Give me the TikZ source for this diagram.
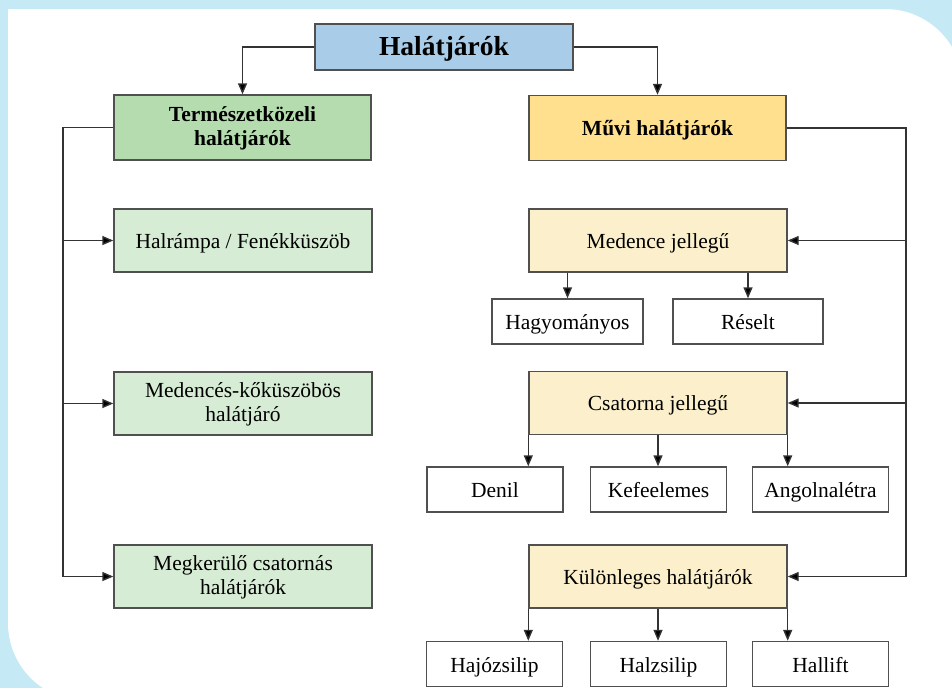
\documentclass[tikz,border=0pt]{standalone}
\usepackage{fontspec}
\setmainfont{Liberation Serif}
\usetikzlibrary{arrows.meta}
\definecolor{bgblue}{HTML}{C6E9F6}
\definecolor{rootblue}{HTML}{A9CCE9}
\definecolor{greenhdr}{HTML}{B4DCAF}
\definecolor{greenleaf}{HTML}{D7ECD4}
\definecolor{yellowhdr}{HTML}{FFE08E}
\definecolor{yellowsub}{HTML}{FBF0CB}
\definecolor{boxline}{HTML}{505050}
\definecolor{lineclr}{HTML}{333333}
\newcommand{\twol}[2]{\rule{0pt}{16pt}#1\\#2\rule[-2pt]{0pt}{2pt}}
\begin{document}
\begin{tikzpicture}[x=1pt,y=-1pt,
  box/.style={draw=boxline, line width=1.4pt, inner sep=0pt, align=center,
    font=\fontsize{21.5}{24}\selectfont},
  single/.style={text height=16pt, text depth=1pt},
  hdr/.style={box, minimum width=257pt, minimum height=65pt,
    font=\fontsize{21.5}{24}\selectfont\bfseries},
  bigbox/.style={box, minimum width=258pt, minimum height=63pt},
  smallbox/.style={box, fill=white, minimum width=136pt, minimum height=45pt,
    text height=17pt, text depth=1pt},
  conn/.style={draw=lineclr, line width=1.4pt},
  arr/.style={conn, -{Triangle[length=11pt,width=9pt,fill=black]}}]
\clip (0,0) rectangle (952,688);
\fill[bgblue] (0,0) rectangle (952,688);
\fill[white] (8,9) -- (885,9) arc[start angle=-90, end angle=0, radius=78]
  -- (963,701) -- (86,701) arc[start angle=90, end angle=180, radius=78] -- cycle;

% root
\node[box, fill=rootblue, minimum width=258pt, minimum height=46pt,
  text height=19pt, text depth=1.6pt,
  font=\fontsize{27.5}{32}\selectfont\bfseries] (root) at (444,47) {Halátjárók};

% level 2
\node[hdr, fill=greenhdr] (tk) at (242.5,127.5) {\twol{Természetközeli}{halátjárók}};
\node[hdr, single, fill=yellowhdr] (mu) at (657.5,128) {Művi halátjárók};

% left column
\node[bigbox, single, fill=greenleaf] (L1) at (243,240.5) {Halrámpa / Fenékküszöb};
\node[bigbox, fill=greenleaf] (L2) at (243,403.5) {\twol{Medencés-kőküszöbös}{halátjáró}};
\node[bigbox, fill=greenleaf] (L3) at (243,576.5) {\twol{Megkerülő csatornás}{halátjárók}};

% right column
\node[bigbox, single, fill=yellowsub] (R1) at (658,240.5) {Medence jellegű};
\node[bigbox, single, fill=yellowsub] (R2) at (658,403) {Csatorna jellegű};
\node[bigbox, single, fill=yellowsub] (R3) at (658,576.5) {Különleges halátjárók};

\node[smallbox, minimum width=151pt] (hagy) at (567.5,321.5) {Hagyományos};
\node[smallbox, minimum width=150pt] (res) at (748,321.5) {Réselt};

\node[smallbox] (denil) at (495,489.5) {Denil};
\node[smallbox] (kefe) at (658.5,489.5) {Kefeelemes};
\node[smallbox] (angol) at (820.5,489.5) {Angolnalétra};

\node[smallbox] (hajo) at (494.5,664) {Hajózsilip};
\node[smallbox] (halz) at (658.5,664) {Halzsilip};
\node[smallbox] (hallift) at (820.5,664) {Hallift};

% connectors top
\draw[arr] (root.west) -| (tk.north);
\draw[arr] (root.east) -| (mu.north);

% left trunk
\coordinate (lx) at (63,127.5);
\draw[conn] (tk.west) -- (lx) -- (lx |- L3.west);
\draw[arr] (lx |- L1.west) -- (L1.west);
\draw[arr] (lx |- L2.west) -- (L2.west);
\draw[arr] (lx |- L3.west) -- (L3.west);

% right trunk
\coordinate (rx) at (906,128);
\draw[conn] (mu.east) -- (rx) -- (rx |- R3.east);
\draw[arr] (rx |- R1.east) -- (R1.east);
\draw[arr] (rx |- R2.east) -- (R2.east);
\draw[arr] (rx |- R3.east) -- (R3.east);

% Medence children
\draw[arr] (hagy.north |- R1.south) -- (hagy.north);
\draw[arr] (res.north |- R1.south) -- (res.north);

% Csatorna children
\draw[arr] (R2.south west) -- (R2.south west |- denil.north);
\draw[arr] (R2.south) -- (R2.south |- kefe.north);
\draw[arr] (R2.south east) -- (R2.south east |- angol.north);

% Kulonleges children
\draw[arr] (R3.south west) -- (R3.south west |- hajo.north);
\draw[arr] (R3.south) -- (R3.south |- halz.north);
\draw[arr] (R3.south east) -- (R3.south east |- hallift.north);
\end{tikzpicture}
\end{document}
